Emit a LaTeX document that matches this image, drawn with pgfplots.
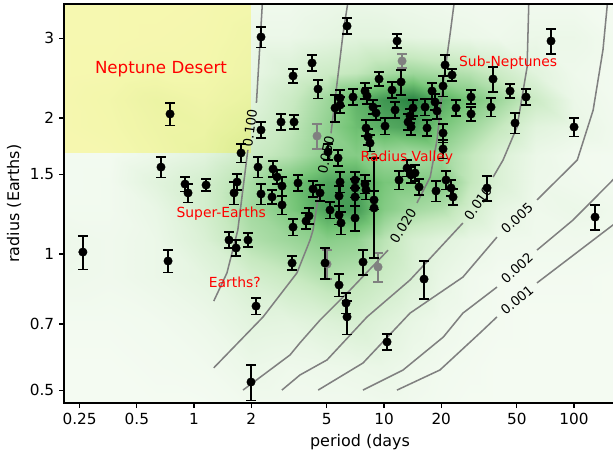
\documentclass[border=0pt]{standalone}
\usepackage{fontspec}
\setmainfont{DejaVu Sans}
\usepackage{pgfplots}
\usepackage{pgfplotstable}
\pgfplotsset{compat=1.18}
\definecolor{cgray}{RGB}{128,128,128}
\definecolor{ptgray}{RGB}{128,128,128}
\definecolor{annred}{RGB}{255,0,0}

\pgfplotstableread[row sep=\\]{
P R e\\
0.260 1.010 0.085\\ 0.730 0.965 0.057\\ 0.748 2.041 0.057\\ 0.670 1.557 0.052\\
0.897 1.428 0.036\\ 0.930 1.365 0.047\\ 1.157 1.421 0.031\\ 1.624 1.365 0.057\\
1.684 1.443 0.041\\ 1.768 1.673 0.047\\ 2.252 3.021 0.052\\ 2.252 1.881 0.041\\
2.172 1.557 0.052\\ 2.252 1.358 0.052\\ 3.320 2.477 0.036\\ 2.870 1.959 0.041\\
3.360 1.959 0.036\\ 2.605 1.542 0.041\\ 2.734 1.481 0.036\\ 2.905 1.414 0.047\\
2.573 1.337 0.036\\ 2.905 1.284 0.047\\ 3.526 1.436 0.041\\ 3.320 1.147 0.041\\
1.528 1.074 0.041\\ 1.664 1.031 0.041\\ 1.924 1.074 0.036\\ 3.281 0.955 0.036\\
2.120 0.767 0.041\\ 1.995 0.521 0.090\\ 4.179 2.646 0.041\\ 4.494 2.317 0.047\\
6.387 3.194 0.041\\ 5.073 1.682 0.041\\ 5.727 1.631 0.041\\ 4.230 1.393 0.041\\
4.605 1.365 0.041\\ 5.867 1.443 0.052\\ 5.797 1.344 0.052\\ 7.037 1.458 0.041\\
7.037 1.400 0.047\\ 7.037 1.337 0.047\\ 7.943 1.428 0.047\\ 8.040 1.386 0.047\\
7.037 1.201 0.063\\ 3.886 1.183 0.041\\ 4.030 1.214 0.041\\ 5.197 1.251 0.041\\
5.797 1.220 0.047\\ 5.938 1.171 0.057\\ 8.859 1.317 0.047\\ 5.867 2.214 0.041\\
5.523 2.104 0.068\\ 5.867 2.136 0.041\\ 6.868 2.225 0.041\\ 7.943 2.294 0.041\\
8.137 2.236 0.041\\ 8.752 2.114 0.036\\ 9.076 2.051 0.036\\ 8.040 1.900 0.041\\
8.237 1.815 0.041\\ 8.439 1.760 0.041\\ 10.12 1.919 0.041\\ 9.412 2.439 0.036\\
12.29 2.402 0.063\\ 11.02 2.306 0.041\\ 11.43 2.083 0.041\\ 11.71 2.960 0.036\\
20.95 2.619 0.052\\ 22.80 2.489 0.031\\ 14.21 2.104 0.041\\ 13.71 2.020 0.036\\
13.38 1.959 0.041\\ 13.87 1.910 0.041\\ 16.44 2.114 0.041\\ 17.89 2.294 0.041\\
20.44 2.353 0.052\\ 18.55 2.169 0.041\\ 19.01 2.072 0.041\\ 16.84 1.900 0.041\\
23.93 2.104 0.041\\ 28.71 2.225 0.036\\ 28.71 2.041 0.036\\ 20.44 1.852 0.047\\
20.44 1.708 0.047\\ 13.22 1.549 0.041\\ 13.87 1.496 0.041\\ 14.56 1.511 0.041\\
11.99 1.458 0.047\\ 15.29 1.407 0.041\\ 18.78 1.379 0.052\\ 21.20 1.458 0.047\\
22.53 1.400 0.041\\ 23.08 1.337 0.041\\ 34.84 1.400 0.063\\ 37.47 2.439 0.063\\
46.05 2.294 0.036\\ 55.89 2.225 0.041\\ 36.57 2.114 0.047\\ 48.91 1.949 0.052\\
100.0 1.910 0.047\\ 75.66 2.960 0.063\\ 129.0 1.207 0.063\\ 4.891 0.955 0.079\\
7.754 0.960 0.063\\ 5.797 0.854 0.057\\ 6.310 0.779 0.052\\ 6.387 0.726 0.085\\
10.37 0.639 0.041\\ 16.24 0.880 0.096\\
}\ptsblack

\pgfplotstableread[row sep=\\]{
P R e\\
12.44 2.673 0.036\\ 4.440 1.824 0.063\\ 5.012 0.950 0.073\\ 9.298 0.936 0.073\\
}\ptsgray

\pgfplotstableread[row sep=\\]{
x y z\\
0.1995 0.4467 .02\\ 0.3548 0.4467 .02\\ 0.631 0.4467 .02\\ 1.122 0.4467 .02\\ 1.995 0.4467 .04\\ 3.162 0.4467 .04\\ 5.012 0.4467 .04\\ 7.079 0.4467 .04\\ 10 0.4467 .05\\ 14.13 0.4467 .04\\ 19.95 0.4467 .03\\ 28.18 0.4467 .02\\ 39.81 0.4467 .02\\ 63.1 0.4467 .02\\ 100 0.4467 .02\\ 177.8 0.4467 .02\\
0.1995 0.5623 .02\\ 0.3548 0.5623 .02\\ 0.631 0.5623 .03\\ 1.122 0.5623 .04\\ 1.995 0.5623 .08\\ 3.162 0.5623 .06\\ 5.012 0.5623 .07\\ 7.079 0.5623 .08\\ 10 0.5623 .09\\ 14.13 0.5623 .06\\ 19.95 0.5623 .04\\ 28.18 0.5623 .03\\ 39.81 0.5623 .02\\ 63.1 0.5623 .02\\ 100 0.5623 .02\\ 177.8 0.5623 .02\\
0.1995 0.7079 .03\\ 0.3548 0.7079 .03\\ 0.631 0.7079 .04\\ 1.122 0.7079 .07\\ 1.995 0.7079 .14\\ 3.162 0.7079 .13\\ 5.012 0.7079 .18\\ 7.079 0.7079 .22\\ 10 0.7079 .16\\ 14.13 0.7079 .10\\ 19.95 0.7079 .06\\ 28.18 0.7079 .04\\ 39.81 0.7079 .03\\ 63.1 0.7079 .02\\ 100 0.7079 .02\\ 177.8 0.7079 .02\\
0.1995 0.8913 .06\\ 0.3548 0.8913 .05\\ 0.631 0.8913 .08\\ 1.122 0.8913 .13\\ 1.995 0.8913 .24\\ 3.162 0.8913 .32\\ 5.012 0.8913 .42\\ 7.079 0.8913 .38\\ 10 0.8913 .30\\ 14.13 0.8913 .20\\ 19.95 0.8913 .10\\ 28.18 0.8913 .05\\ 39.81 0.8913 .03\\ 63.1 0.8913 .03\\ 100 0.8913 .03\\ 177.8 0.8913 .02\\
0.1995 1.0715 .07\\ 0.3548 1.0715 .05\\ 0.631 1.0715 .08\\ 1.122 1.0715 .20\\ 1.995 1.0715 .42\\ 3.162 1.0715 .50\\ 5.012 1.0715 .58\\ 7.079 1.0715 .55\\ 10 1.0715 .38\\ 14.13 1.0715 .22\\ 19.95 1.0715 .15\\ 28.18 1.0715 .10\\ 39.81 1.0715 .06\\ 63.1 1.0715 .05\\ 100 1.0715 .05\\ 177.8 1.0715 .04\\
0.1995 1.2589 .04\\ 0.3548 1.2589 .04\\ 0.631 1.2589 .10\\ 1.122 1.2589 .25\\ 1.995 1.2589 .48\\ 3.162 1.2589 .62\\ 5.012 1.2589 .85\\ 7.079 1.2589 .88\\ 10 1.2589 .60\\ 14.13 1.2589 .48\\ 19.95 1.2589 .42\\ 28.18 1.2589 .25\\ 39.81 1.2589 .12\\ 63.1 1.2589 .06\\ 100 1.2589 .08\\ 177.8 1.2589 .05\\
0.1995 1.4454 .03\\ 0.3548 1.4454 .04\\ 0.631 1.4454 .15\\ 1.122 1.4454 .25\\ 1.995 1.4454 .45\\ 3.162 1.4454 .65\\ 5.012 1.4454 .82\\ 7.079 1.4454 .85\\ 10 1.4454 .65\\ 14.13 1.4454 .62\\ 19.95 1.4454 .62\\ 28.18 1.4454 .35\\ 39.81 1.4454 .20\\ 63.1 1.4454 .07\\ 100 1.4454 .05\\ 177.8 1.4454 .03\\
0.1995 1.6596 .03\\ 0.3548 1.6596 .03\\ 0.631 1.6596 .08\\ 1.122 1.6596 .15\\ 1.995 1.6596 .30\\ 3.162 1.6596 .40\\ 5.012 1.6596 .58\\ 7.079 1.6596 .60\\ 10 1.6596 .50\\ 14.13 1.6596 .45\\ 19.95 1.6596 .50\\ 28.18 1.6596 .35\\ 39.81 1.6596 .20\\ 63.1 1.6596 .08\\ 100 1.6596 .04\\ 177.8 1.6596 .03\\
0.1995 1.9055 .03\\ 0.3548 1.9055 .05\\ 0.631 1.9055 .10\\ 1.122 1.9055 .12\\ 1.995 1.9055 .22\\ 3.162 1.9055 .35\\ 5.012 1.9055 .55\\ 7.079 1.9055 .70\\ 10 1.9055 .80\\ 14.13 1.9055 .85\\ 19.95 1.9055 .65\\ 28.18 1.9055 .50\\ 39.81 1.9055 .35\\ 63.1 1.9055 .15\\ 100 1.9055 .10\\ 177.8 1.9055 .04\\
0.1995 2.1878 .03\\ 0.3548 2.1878 .06\\ 0.631 2.1878 .12\\ 1.122 2.1878 .08\\ 1.995 2.1878 .15\\ 3.162 2.1878 .30\\ 5.012 2.1878 .50\\ 7.079 2.1878 .75\\ 10 2.1878 .90\\ 14.13 2.1878 1.0\\ 19.95 2.1878 .80\\ 28.18 2.1878 .65\\ 39.81 2.1878 .50\\ 63.1 2.1878 .30\\ 100 2.1878 .08\\ 177.8 2.1878 .03\\
0.1995 2.5119 .02\\ 0.3548 2.5119 .03\\ 0.631 2.5119 .05\\ 1.122 2.5119 .05\\ 1.995 2.5119 .10\\ 3.162 2.5119 .20\\ 5.012 2.5119 .30\\ 7.079 2.5119 .35\\ 10 2.5119 .45\\ 14.13 2.5119 .50\\ 19.95 2.5119 .45\\ 28.18 2.5119 .40\\ 39.81 2.5119 .30\\ 63.1 2.5119 .15\\ 100 2.5119 .06\\ 177.8 2.5119 .03\\
0.1995 3.02 .02\\ 0.3548 3.02 .02\\ 0.631 3.02 .03\\ 1.122 3.02 .04\\ 1.995 3.02 .08\\ 3.162 3.02 .08\\ 5.012 3.02 .12\\ 7.079 3.02 .15\\ 10 3.02 .15\\ 14.13 3.02 .12\\ 19.95 3.02 .10\\ 28.18 3.02 .08\\ 39.81 3.02 .06\\ 63.1 3.02 .08\\ 100 3.02 .08\\ 177.8 3.02 .03\\
0.1995 3.631 .02\\ 0.3548 3.631 .02\\ 0.631 3.631 .02\\ 1.122 3.631 .03\\ 1.995 3.631 .05\\ 3.162 3.631 .05\\ 5.012 3.631 .07\\ 7.079 3.631 .08\\ 10 3.631 .07\\ 14.13 3.631 .06\\ 19.95 3.631 .05\\ 28.18 3.631 .04\\ 39.81 3.631 .04\\ 63.1 3.631 .04\\ 100 3.631 .04\\ 177.8 3.631 .02\\
}\dens

\begin{document}
\begin{tikzpicture}
\begin{axis}[
  scale only axis,
  width=426.2pt, height=287.3pt,
  xmode=log, ymode=log,
  xmin=0.2069, xmax=270, ymin=0.468, ymax=3.573,
  xtick={0.25,0.5,1,2,5,10,20,50,100},
  xticklabels={0.25,0.5,1,2,5,10,20,50,100},
  ytick={0.5,0.7,1,1.5,2,3},
  yticklabels={0.5,0.7,1,1.5,2,3},
  xminorticks=false, yminorticks=false,
  tick pos=left, tick align=outside,
  major tick length=3.6pt,
  major tick style={line width=0.8pt, black},
  axis line style={line width=2pt},
  axis on top,
  /pgf/number format/assume math mode=true,
  tick label style={font=\fontsize{11}{13}\selectfont},
  label style={font=\fontsize{11.5}{13}\selectfont},
  xlabel={period (days},
  ylabel={radius (Earths)},
  xlabel style={at={(axis description cs:0.5,-0.0978)}, anchor=center},
  ylabel style={at={(axis description cs:-0.0845,0.5)}, anchor=center},
  colormap={kde}{rgb255=(247,252,245) rgb255=(199,233,192) rgb255=(116,196,118) rgb255=(40,130,65)},
  point meta min=0, point meta max=1,
]
% density background
\addplot[surf, shader=interp, mesh/cols=16, point meta=explicit] table[x=x, y=y, meta=z] {\dens};
% Neptune desert
\fill[yellow, opacity=0.27] (axis cs:0.2069,1.673) rectangle (axis cs:2,3.573);
% contours
\addplot[cgray, line width=1.1pt] coordinates {(2.29,3.6) (2.13,2.16)};
\addplot[cgray, line width=1.1pt] coordinates {(1.92,1.70) (1.70,1.13) (1.49,0.908) (1.27,0.787)};
\addplot[cgray, line width=1.1pt] coordinates {(6.45,3.6) (6.09,3.08) (5.66,2.39) (5.26,1.85)};
\addplot[cgray, line width=1.1pt] coordinates {(4.60,1.41) (4.23,1.13) (4.08,1.074) (3.48,0.908) (2.31,0.726) (1.27,0.56)};
\addplot[cgray, line width=1.1pt] coordinates {(23.4,3.6) (22.3,3.08) (20.5,2.39) (19.0,1.787) (17.5,1.48) (14.9,1.297)};
\addplot[cgray, line width=1.1pt] coordinates {(10.5,1.02) (6.62,0.832) (4.60,0.714) (3.61,0.636) (3.20,0.598) (1.81,0.5)};
\addplot[cgray, line width=1.1pt] coordinates {(57.8,3.6) (56.6,2.59) (50.1,1.91) (42.3,1.614) (37.5,1.48)};
\addplot[cgray, line width=1.1pt] coordinates {(26.0,1.171) (13.7,0.876) (8.14,0.726) (5.01,0.583) (3.61,0.540) (2.90,0.5)};
\addplot[cgray, line width=1.1pt] coordinates {(150,3.6) (142,2.83) (126,2.08) (104,1.614) (63.8,1.317)};
\addplot[cgray, line width=1.1pt] coordinates {(39.3,1.09) (26.0,0.889) (13.7,0.740) (7.75,0.574) (4.50,0.5)};
\addplot[cgray, line width=1.1pt] coordinates {(7.75,0.5) (12.6,0.554) (20.5,0.655) (26.0,0.740) (39.3,0.845)};
\addplot[cgray, line width=1.1pt] coordinates {(63.8,1.02) (98.8,1.189) (160,1.458) (270,1.815)};
\addplot[cgray, line width=1.1pt] coordinates {(11.7,0.5) (19.7,0.554) (32.0,0.669) (39.3,0.726)};
\addplot[cgray, line width=1.1pt] coordinates {(63.8,0.863) (155,1.147) (270,1.37)};
% contour labels
\begin{scope}[every node/.style={font=\fontsize{9.5}{11}\selectfont, inner sep=0pt}]
\node[rotate=82] at (axis cs:1.97,1.90) {0.100};
\node[rotate=78] at (axis cs:4.95,1.656) {0.050};
\node[rotate=58] at (axis cs:12.6,1.153) {0.020};
\node[rotate=55] at (axis cs:31.2,1.297) {0.010};
\node[rotate=43] at (axis cs:50.1,1.20) {0.005};
\node[rotate=43] at (axis cs:50.1,0.931) {0.002};
\node[rotate=40] at (axis cs:50.1,0.791) {0.001};
\end{scope}
% points
\addplot[only marks, mark=*, mark size=3pt, ptgray, draw=ptgray, fill=ptgray,
  error bars/.cd, y dir=both, y explicit relative,
  error bar style={line width=1.1pt, ptgray},
  error mark options={rotate=90, line width=1.1pt, mark size=3.6pt, ptgray}]
  table[x=P, y=R, y error=e] {\ptsgray};
\addplot[only marks, mark=*, mark size=3pt, black,
  error bars/.cd, y dir=both, y explicit relative,
  error bar style={line width=1.1pt, black},
  error mark options={rotate=90, line width=1.1pt, mark size=3.6pt, black}]
  table[x=P, y=R, y error=e] {\ptsblack};
\addplot[only marks, mark=*, mark size=3pt, black,
  error bars/.cd, y dir=both, y explicit,
  error bar style={line width=1.1pt, black},
  error mark options={rotate=90, line width=1.1pt, mark size=3.6pt, black}]
  coordinates {(8.859,1.264) += (0,0.367) -= (0,0.284)};
% annotations
\node[text=annred, font=\fontsize{12}{14}\selectfont] at (axis cs:0.67,2.57) {Neptune Desert};
\node[text=annred, font=\fontsize{10}{12}\selectfont] at (axis cs:45.0,2.65) {Sub-Neptunes};
\node[text=annred, font=\fontsize{10}{12}\selectfont] at (axis cs:13.2,1.63) {Radius Valley};
\node[text=annred, font=\fontsize{10}{12}\selectfont] at (axis cs:1.39,1.226) {Super-Earths};
\node[text=annred, font=\fontsize{10}{12}\selectfont] at (axis cs:1.64,0.867) {Earths?};
\coordinate (BL) at (rel axis cs:0,0);
\coordinate (TR) at (rel axis cs:0.92736,1);
\end{axis}
\pgfresetboundingbox
\useasboundingbox ([xshift=-46.1pt,yshift=-38.2pt]BL) rectangle ([yshift=2.9pt]TR);
\end{tikzpicture}
\end{document}
